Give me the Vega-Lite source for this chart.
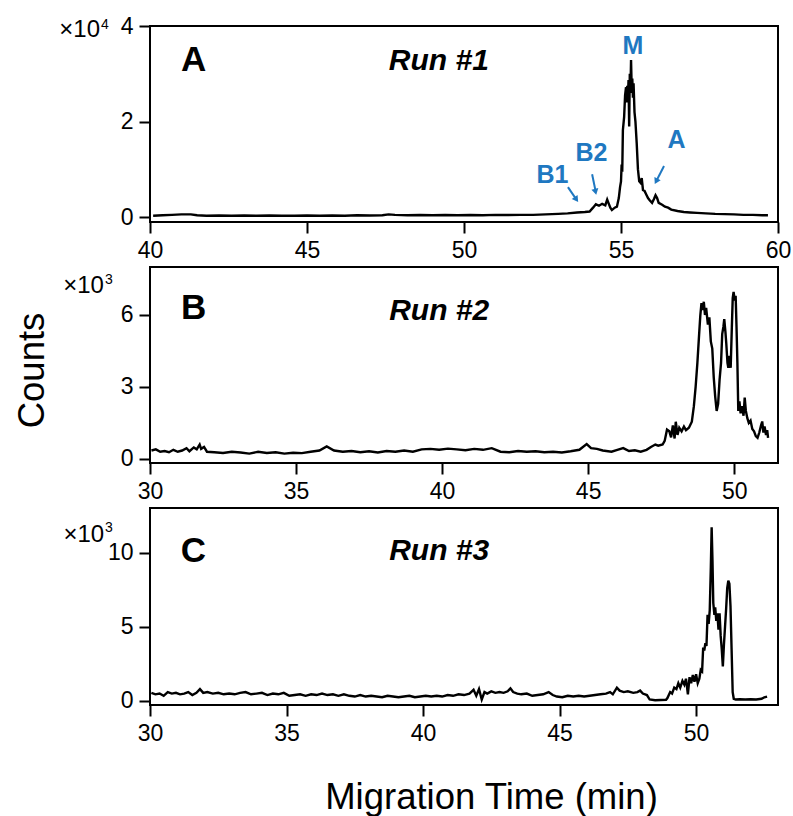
{
  "$schema": "https://vega.github.io/schema/vega-lite/v6.json",
  "autosize": {"type": "none"},
  "padding": {"left": 150, "top": 26, "right": 643, "bottom": 790},
  "background": "white",
  "spacing": 45,
  "bounds": "flush",
  "config": {
    "view": {"stroke": "black", "strokeWidth": 2},
    "font": "Liberation Sans",
    "axis": {"domain": false, "grid": false, "ticks": true, "tickSize": 11, "tickWidth": 2, "tickColor": "black", "labelFont": "Liberation Sans", "labelFontSize": 23, "labelColor": "black", "labelPadding": 6, "labelFlush": false, "labelOverlap": false}
  },
  "vconcat": [
    {
      "width": 628, "height": 196,
      "encoding": {
        "x": {"field": "t", "type": "quantitative", "scale": {"domain": [40, 60], "nice": false, "zero": false}, "axis": {"values": [40, 45, 50, 55, 60], "title": null}},
        "y": {"field": "v", "type": "quantitative", "scale": {"domain": [-0.1, 4], "nice": false, "zero": false}, "axis": {"values": [0, 2, 4], "title": null}}
      },
      "layer": [
        {
          "data": {"values": [
            {"t": 40.1, "v": 0.03}, {"t": 40.4, "v": 0.04}, {"t": 40.7, "v": 0.05}, {"t": 41.0, "v": 0.06}, {"t": 41.3, "v": 0.06}, {"t": 41.5, "v": 0.04}, {"t": 41.8, "v": 0.03}, {"t": 42.2, "v": 0.035}, {"t": 42.6, "v": 0.03}, {"t": 43.0, "v": 0.035}, {"t": 43.4, "v": 0.03}, {"t": 43.8, "v": 0.035}, {"t": 44.2, "v": 0.03}, {"t": 44.6, "v": 0.03}, {"t": 45.0, "v": 0.035}, {"t": 45.4, "v": 0.03}, {"t": 45.8, "v": 0.035}, {"t": 46.2, "v": 0.03}, {"t": 46.6, "v": 0.04}, {"t": 47.0, "v": 0.035}, {"t": 47.4, "v": 0.04}, {"t": 47.6, "v": 0.06}, {"t": 47.8, "v": 0.05}, {"t": 48.2, "v": 0.04}, {"t": 48.6, "v": 0.045}, {"t": 49.0, "v": 0.04}, {"t": 49.4, "v": 0.045}, {"t": 49.8, "v": 0.04}, {"t": 50.2, "v": 0.045}, {"t": 50.6, "v": 0.04}, {"t": 51.0, "v": 0.05}, {"t": 51.4, "v": 0.045}, {"t": 51.8, "v": 0.05}, {"t": 52.2, "v": 0.05}, {"t": 52.6, "v": 0.06}, {"t": 53.0, "v": 0.07}, {"t": 53.3, "v": 0.08}, {"t": 53.6, "v": 0.1}, {"t": 53.85, "v": 0.11}, {"t": 54.0, "v": 0.12}, {"t": 54.11, "v": 0.2}, {"t": 54.2, "v": 0.27}, {"t": 54.3, "v": 0.24}, {"t": 54.4, "v": 0.28}, {"t": 54.5, "v": 0.25}, {"t": 54.56, "v": 0.37}, {"t": 54.6, "v": 0.3}, {"t": 54.66, "v": 0.2}, {"t": 54.71, "v": 0.15}, {"t": 54.8, "v": 0.2}, {"t": 54.87, "v": 0.22}, {"t": 54.93, "v": 0.4}, {"t": 54.97, "v": 0.63}, {"t": 55.0, "v": 0.75}, {"t": 55.02, "v": 1.1}, {"t": 55.04, "v": 0.95}, {"t": 55.06, "v": 1.82}, {"t": 55.1, "v": 2.1}, {"t": 55.13, "v": 2.55}, {"t": 55.16, "v": 2.72}, {"t": 55.18, "v": 2.4}, {"t": 55.2, "v": 2.75}, {"t": 55.22, "v": 2.5}, {"t": 55.24, "v": 2.87}, {"t": 55.26, "v": 1.9}, {"t": 55.28, "v": 3.0}, {"t": 55.3, "v": 2.6}, {"t": 55.32, "v": 3.29}, {"t": 55.34, "v": 2.7}, {"t": 55.36, "v": 2.9}, {"t": 55.38, "v": 2.5}, {"t": 55.4, "v": 2.8}, {"t": 55.43, "v": 2.2}, {"t": 55.46, "v": 2.0}, {"t": 55.5, "v": 1.55}, {"t": 55.54, "v": 1.0}, {"t": 55.58, "v": 0.75}, {"t": 55.62, "v": 0.72}, {"t": 55.66, "v": 0.82}, {"t": 55.7, "v": 0.57}, {"t": 55.75, "v": 0.55}, {"t": 55.8, "v": 0.48}, {"t": 55.86, "v": 0.4}, {"t": 55.92, "v": 0.35}, {"t": 55.99, "v": 0.3}, {"t": 56.05, "v": 0.38}, {"t": 56.1, "v": 0.46}, {"t": 56.15, "v": 0.4}, {"t": 56.2, "v": 0.3}, {"t": 56.31, "v": 0.26}, {"t": 56.4, "v": 0.22}, {"t": 56.5, "v": 0.2}, {"t": 56.6, "v": 0.16}, {"t": 56.8, "v": 0.13}, {"t": 57.0, "v": 0.11}, {"t": 57.2, "v": 0.1}, {"t": 57.42, "v": 0.09}, {"t": 57.7, "v": 0.08}, {"t": 58.0, "v": 0.07}, {"t": 58.3, "v": 0.065}, {"t": 58.6, "v": 0.06}, {"t": 58.9, "v": 0.05}, {"t": 59.2, "v": 0.05}, {"t": 59.5, "v": 0.04}, {"t": 59.68, "v": 0.04}
          ]},
          "mark": {"type": "line", "color": "black", "strokeWidth": 2.4, "clip": true}
        },
        {
          "data": {"values": [{"t": 41.39, "v": 3.29, "label": "A"}]},
          "mark": {"type": "text", "fontSize": 35, "fontWeight": "bold", "color": "black", "align": "center", "baseline": "middle"},
          "encoding": {"text": {"field": "label"}}
        },
        {
          "data": {"values": [{"t": 49.2, "v": 3.27, "label": "Run #1"}]},
          "mark": {"type": "text", "fontSize": 30, "fontWeight": "bold", "fontStyle": "italic", "color": "black", "align": "center", "baseline": "middle"},
          "encoding": {"text": {"field": "label"}}
        },
        {
          "data": {"values": [{"t": 38.41, "v": 3.77, "label": "×10"}]},
          "mark": {"type": "text", "fontSize": 24, "color": "black", "align": "right", "baseline": "alphabetic"},
          "encoding": {"text": {"field": "label"}}
        },
        {
          "data": {"values": [{"t": 38.44, "v": 3.94, "label": "4"}]},
          "mark": {"type": "text", "fontSize": 14, "color": "black", "align": "left", "baseline": "alphabetic"},
          "encoding": {"text": {"field": "label"}}
        },
        {
          "data": {"values": [
            {"t": 55.38, "v": 3.58, "label": "M"}, {"t": 54.06, "v": 1.35, "label": "B2"}, {"t": 52.82, "v": 0.88, "label": "B1"}, {"t": 56.77, "v": 1.62, "label": "A"}
          ]},
          "mark": {"type": "text", "fontSize": 25, "fontWeight": "bold", "color": "#1f78c1", "align": "center", "baseline": "middle"},
          "encoding": {"text": {"field": "label"}}
        },
        {
          "data": {"values": [
            {"t": 53.31, "v": 0.63, "t2": 53.55, "v2": 0.4, "label": "B1"}, {"t": 54.08, "v": 0.9, "t2": 54.18, "v2": 0.58, "label": "B2"}, {"t": 56.37, "v": 1.07, "t2": 56.15, "v2": 0.79, "label": "A"}
          ]},
          "mark": {"type": "rule", "color": "#1f78c1", "strokeWidth": 2},
          "encoding": {"x2": {"field": "t2"}, "y2": {"field": "v2"}}
        },
        {
          "data": {"values": [{"t": 53.58, "v": 0.37, "label": "B1"}]},
          "mark": {"type": "point", "shape": "triangle-up", "filled": true, "opacity": 1, "color": "#1f78c1", "size": 50, "angle": 145},
          "encoding": {}
        },
        {
          "data": {"values": [{"t": 54.19, "v": 0.53, "label": "B2"}]},
          "mark": {"type": "point", "shape": "triangle-up", "filled": true, "opacity": 1, "color": "#1f78c1", "size": 50, "angle": 167},
          "encoding": {}
        },
        {
          "data": {"values": [{"t": 56.12, "v": 0.75, "label": "A"}]},
          "mark": {"type": "point", "shape": "triangle-up", "filled": true, "opacity": 1, "color": "#1f78c1", "size": 50, "angle": 207},
          "encoding": {}
        }
      ]
    },
    {
      "width": 628, "height": 196,
      "encoding": {
        "x": {"field": "t", "type": "quantitative", "scale": {"domain": [30, 51.5], "nice": false, "zero": false}, "axis": {"values": [30, 35, 40, 45, 50], "title": null}},
        "y": {"field": "v", "type": "quantitative", "scale": {"domain": [-0.17, 8], "nice": false, "zero": false}, "axis": {"values": [0, 3, 6], "title": "Counts", "titleFont": "Liberation Sans", "titleFontSize": 36.5, "titleFontWeight": "normal", "titleColor": "black", "titleAngle": -90, "titleBaseline": "alphabetic", "titleX": -107, "titleY": 103}}
      },
      "layer": [
        {
          "data": {"values": [
            {"t": 30.05, "v": 0.35}, {"t": 30.2, "v": 0.4}, {"t": 30.35, "v": 0.3}, {"t": 30.5, "v": 0.33}, {"t": 30.65, "v": 0.28}, {"t": 30.8, "v": 0.38}, {"t": 30.95, "v": 0.3}, {"t": 31.1, "v": 0.35}, {"t": 31.25, "v": 0.45}, {"t": 31.35, "v": 0.32}, {"t": 31.5, "v": 0.48}, {"t": 31.6, "v": 0.4}, {"t": 31.7, "v": 0.6}, {"t": 31.75, "v": 0.42}, {"t": 31.85, "v": 0.5}, {"t": 31.95, "v": 0.3}, {"t": 32.2, "v": 0.28}, {"t": 32.5, "v": 0.25}, {"t": 32.8, "v": 0.3}, {"t": 33.1, "v": 0.27}, {"t": 33.4, "v": 0.22}, {"t": 33.7, "v": 0.3}, {"t": 34.0, "v": 0.25}, {"t": 34.3, "v": 0.28}, {"t": 34.6, "v": 0.22}, {"t": 34.9, "v": 0.26}, {"t": 35.2, "v": 0.24}, {"t": 35.5, "v": 0.3}, {"t": 35.8, "v": 0.35}, {"t": 36.05, "v": 0.52}, {"t": 36.3, "v": 0.35}, {"t": 36.6, "v": 0.3}, {"t": 36.9, "v": 0.33}, {"t": 37.2, "v": 0.28}, {"t": 37.5, "v": 0.32}, {"t": 37.8, "v": 0.27}, {"t": 38.1, "v": 0.33}, {"t": 38.4, "v": 0.3}, {"t": 38.7, "v": 0.35}, {"t": 39.0, "v": 0.3}, {"t": 39.3, "v": 0.4}, {"t": 39.6, "v": 0.42}, {"t": 39.9, "v": 0.38}, {"t": 40.2, "v": 0.43}, {"t": 40.5, "v": 0.4}, {"t": 40.8, "v": 0.36}, {"t": 41.1, "v": 0.42}, {"t": 41.4, "v": 0.38}, {"t": 41.7, "v": 0.45}, {"t": 42.0, "v": 0.3}, {"t": 42.3, "v": 0.28}, {"t": 42.6, "v": 0.33}, {"t": 42.9, "v": 0.3}, {"t": 43.2, "v": 0.32}, {"t": 43.5, "v": 0.28}, {"t": 43.8, "v": 0.3}, {"t": 44.1, "v": 0.27}, {"t": 44.4, "v": 0.32}, {"t": 44.7, "v": 0.38}, {"t": 44.95, "v": 0.62}, {"t": 45.1, "v": 0.45}, {"t": 45.3, "v": 0.42}, {"t": 45.5, "v": 0.35}, {"t": 45.8, "v": 0.3}, {"t": 46.0, "v": 0.38}, {"t": 46.2, "v": 0.45}, {"t": 46.4, "v": 0.33}, {"t": 46.6, "v": 0.36}, {"t": 46.8, "v": 0.3}, {"t": 47.0, "v": 0.38}, {"t": 47.15, "v": 0.5}, {"t": 47.3, "v": 0.6}, {"t": 47.4, "v": 0.55}, {"t": 47.55, "v": 0.6}, {"t": 47.62, "v": 0.75}, {"t": 47.7, "v": 1.22}, {"t": 47.78, "v": 1.15}, {"t": 47.84, "v": 0.9}, {"t": 47.9, "v": 1.4}, {"t": 47.96, "v": 0.85}, {"t": 48.0, "v": 1.55}, {"t": 48.06, "v": 1.0}, {"t": 48.12, "v": 1.3}, {"t": 48.2, "v": 1.15}, {"t": 48.28, "v": 1.35}, {"t": 48.35, "v": 1.2}, {"t": 48.45, "v": 1.3}, {"t": 48.55, "v": 1.55}, {"t": 48.62, "v": 2.2}, {"t": 48.68, "v": 3.0}, {"t": 48.74, "v": 4.0}, {"t": 48.8, "v": 5.2}, {"t": 48.84, "v": 5.97}, {"t": 48.88, "v": 6.5}, {"t": 48.92, "v": 6.2}, {"t": 48.96, "v": 6.55}, {"t": 49.0, "v": 6.0}, {"t": 49.04, "v": 6.3}, {"t": 49.1, "v": 5.6}, {"t": 49.15, "v": 5.9}, {"t": 49.2, "v": 4.9}, {"t": 49.25, "v": 4.6}, {"t": 49.3, "v": 3.4}, {"t": 49.35, "v": 2.6}, {"t": 49.4, "v": 2.0}, {"t": 49.45, "v": 2.3}, {"t": 49.5, "v": 3.3}, {"t": 49.55, "v": 4.0}, {"t": 49.59, "v": 5.2}, {"t": 49.63, "v": 5.5}, {"t": 49.66, "v": 5.83}, {"t": 49.7, "v": 5.3}, {"t": 49.73, "v": 4.8}, {"t": 49.77, "v": 4.0}, {"t": 49.8, "v": 3.8}, {"t": 49.84, "v": 4.3}, {"t": 49.88, "v": 3.8}, {"t": 49.92, "v": 5.5}, {"t": 49.95, "v": 6.7}, {"t": 49.98, "v": 6.96}, {"t": 50.02, "v": 6.6}, {"t": 50.05, "v": 6.8}, {"t": 50.08, "v": 5.5}, {"t": 50.11, "v": 4.0}, {"t": 50.14, "v": 2.0}, {"t": 50.18, "v": 2.4}, {"t": 50.22, "v": 1.9}, {"t": 50.27, "v": 2.2}, {"t": 50.32, "v": 1.8}, {"t": 50.36, "v": 2.56}, {"t": 50.4, "v": 2.0}, {"t": 50.45, "v": 1.7}, {"t": 50.5, "v": 1.5}, {"t": 50.56, "v": 1.6}, {"t": 50.62, "v": 1.25}, {"t": 50.68, "v": 1.15}, {"t": 50.74, "v": 0.95}, {"t": 50.8, "v": 0.88}, {"t": 50.86, "v": 1.1}, {"t": 50.92, "v": 1.4}, {"t": 50.96, "v": 1.56}, {"t": 51.0, "v": 1.1}, {"t": 51.04, "v": 1.35}, {"t": 51.09, "v": 1.0}, {"t": 51.13, "v": 1.2}, {"t": 51.16, "v": 0.88}
          ]},
          "mark": {"type": "line", "color": "black", "strokeWidth": 2.4, "clip": true}
        },
        {
          "data": {"values": [{"t": 31.49, "v": 6.31, "label": "B"}]},
          "mark": {"type": "text", "fontSize": 35, "fontWeight": "bold", "color": "black", "align": "center", "baseline": "middle"},
          "encoding": {"text": {"field": "label"}}
        },
        {
          "data": {"values": [{"t": 39.9, "v": 6.17, "label": "Run #2"}]},
          "mark": {"type": "text", "fontSize": 30, "fontWeight": "bold", "fontStyle": "italic", "color": "black", "align": "center", "baseline": "middle"},
          "encoding": {"text": {"field": "label"}}
        },
        {
          "data": {"values": [{"t": 28.42, "v": 6.9, "label": "×10"}]},
          "mark": {"type": "text", "fontSize": 24, "color": "black", "align": "right", "baseline": "alphabetic"},
          "encoding": {"text": {"field": "label"}}
        },
        {
          "data": {"values": [{"t": 28.46, "v": 7.31, "label": "3"}]},
          "mark": {"type": "text", "fontSize": 14, "color": "black", "align": "left", "baseline": "alphabetic"},
          "encoding": {"text": {"field": "label"}}
        }
      ]
    },
    {
      "width": 628, "height": 197,
      "encoding": {
        "x": {"field": "t", "type": "quantitative", "scale": {"domain": [30, 53], "nice": false, "zero": false}, "axis": {"values": [30, 35, 40, 45, 50], "title": "Migration Time (min)", "titleFont": "Liberation Sans", "titleFontSize": 36.5, "titleFontWeight": "normal", "titleColor": "black", "titleBaseline": "alphabetic", "titleX": 341, "titleY": 103}},
        "y": {"field": "v", "type": "quantitative", "scale": {"domain": [-0.27, 13], "nice": false, "zero": false}, "axis": {"values": [0, 5, 10], "title": null}}
      },
      "layer": [
        {
          "data": {"values": [
            {"t": 30.05, "v": 0.55}, {"t": 30.2, "v": 0.45}, {"t": 30.35, "v": 0.5}, {"t": 30.5, "v": 0.35}, {"t": 30.65, "v": 0.6}, {"t": 30.8, "v": 0.5}, {"t": 30.95, "v": 0.55}, {"t": 31.1, "v": 0.45}, {"t": 31.25, "v": 0.5}, {"t": 31.4, "v": 0.6}, {"t": 31.55, "v": 0.4}, {"t": 31.7, "v": 0.55}, {"t": 31.83, "v": 0.8}, {"t": 31.95, "v": 0.55}, {"t": 32.1, "v": 0.6}, {"t": 32.3, "v": 0.5}, {"t": 32.5, "v": 0.55}, {"t": 32.7, "v": 0.45}, {"t": 32.9, "v": 0.5}, {"t": 33.1, "v": 0.45}, {"t": 33.3, "v": 0.55}, {"t": 33.5, "v": 0.6}, {"t": 33.7, "v": 0.45}, {"t": 33.9, "v": 0.5}, {"t": 34.1, "v": 0.55}, {"t": 34.3, "v": 0.4}, {"t": 34.5, "v": 0.5}, {"t": 34.7, "v": 0.45}, {"t": 34.9, "v": 0.55}, {"t": 35.1, "v": 0.35}, {"t": 35.3, "v": 0.4}, {"t": 35.5, "v": 0.45}, {"t": 35.7, "v": 0.35}, {"t": 35.9, "v": 0.45}, {"t": 36.1, "v": 0.4}, {"t": 36.3, "v": 0.5}, {"t": 36.5, "v": 0.4}, {"t": 36.7, "v": 0.45}, {"t": 36.9, "v": 0.35}, {"t": 37.1, "v": 0.45}, {"t": 37.3, "v": 0.35}, {"t": 37.5, "v": 0.3}, {"t": 37.7, "v": 0.4}, {"t": 37.9, "v": 0.3}, {"t": 38.1, "v": 0.35}, {"t": 38.3, "v": 0.3}, {"t": 38.5, "v": 0.25}, {"t": 38.7, "v": 0.35}, {"t": 38.9, "v": 0.3}, {"t": 39.1, "v": 0.25}, {"t": 39.3, "v": 0.3}, {"t": 39.5, "v": 0.35}, {"t": 39.7, "v": 0.25}, {"t": 39.9, "v": 0.3}, {"t": 40.1, "v": 0.35}, {"t": 40.3, "v": 0.3}, {"t": 40.5, "v": 0.35}, {"t": 40.7, "v": 0.3}, {"t": 40.9, "v": 0.4}, {"t": 41.1, "v": 0.35}, {"t": 41.3, "v": 0.45}, {"t": 41.5, "v": 0.4}, {"t": 41.7, "v": 0.5}, {"t": 41.85, "v": 0.75}, {"t": 41.95, "v": 0.35}, {"t": 42.05, "v": 0.8}, {"t": 42.15, "v": 0.1}, {"t": 42.25, "v": 0.6}, {"t": 42.35, "v": 0.5}, {"t": 42.5, "v": 0.65}, {"t": 42.65, "v": 0.55}, {"t": 42.8, "v": 0.6}, {"t": 42.95, "v": 0.55}, {"t": 43.1, "v": 0.65}, {"t": 43.2, "v": 0.85}, {"t": 43.3, "v": 0.6}, {"t": 43.45, "v": 0.5}, {"t": 43.6, "v": 0.45}, {"t": 43.8, "v": 0.5}, {"t": 44.0, "v": 0.35}, {"t": 44.2, "v": 0.4}, {"t": 44.4, "v": 0.45}, {"t": 44.6, "v": 0.6}, {"t": 44.75, "v": 0.4}, {"t": 44.9, "v": 0.3}, {"t": 45.1, "v": 0.25}, {"t": 45.3, "v": 0.35}, {"t": 45.5, "v": 0.3}, {"t": 45.7, "v": 0.35}, {"t": 45.9, "v": 0.3}, {"t": 46.1, "v": 0.35}, {"t": 46.3, "v": 0.4}, {"t": 46.5, "v": 0.45}, {"t": 46.7, "v": 0.5}, {"t": 46.85, "v": 0.6}, {"t": 46.95, "v": 0.45}, {"t": 47.1, "v": 0.9}, {"t": 47.2, "v": 0.7}, {"t": 47.35, "v": 0.6}, {"t": 47.5, "v": 0.65}, {"t": 47.7, "v": 0.55}, {"t": 47.85, "v": 0.6}, {"t": 47.95, "v": 0.7}, {"t": 48.05, "v": 0.5}, {"t": 48.2, "v": 0.4}, {"t": 48.3, "v": 0.1}, {"t": 48.5, "v": 0.05}, {"t": 48.7, "v": 0.07}, {"t": 48.9, "v": 0.08}, {"t": 48.95, "v": 0.2}, {"t": 49.05, "v": 0.6}, {"t": 49.12, "v": 0.5}, {"t": 49.2, "v": 0.9}, {"t": 49.28, "v": 0.8}, {"t": 49.35, "v": 1.2}, {"t": 49.42, "v": 0.9}, {"t": 49.5, "v": 1.35}, {"t": 49.57, "v": 1.1}, {"t": 49.63, "v": 1.5}, {"t": 49.7, "v": 0.45}, {"t": 49.76, "v": 1.6}, {"t": 49.82, "v": 1.2}, {"t": 49.88, "v": 1.75}, {"t": 49.94, "v": 1.3}, {"t": 50.0, "v": 1.8}, {"t": 50.06, "v": 1.2}, {"t": 50.12, "v": 1.5}, {"t": 50.17, "v": 2.1}, {"t": 50.22, "v": 2.0}, {"t": 50.26, "v": 3.6}, {"t": 50.3, "v": 3.4}, {"t": 50.34, "v": 3.9}, {"t": 50.38, "v": 3.7}, {"t": 50.42, "v": 5.8}, {"t": 50.46, "v": 5.2}, {"t": 50.5, "v": 6.1}, {"t": 50.54, "v": 9.0}, {"t": 50.57, "v": 11.7}, {"t": 50.6, "v": 9.5}, {"t": 50.63, "v": 6.6}, {"t": 50.67, "v": 5.8}, {"t": 50.7, "v": 6.3}, {"t": 50.74, "v": 5.4}, {"t": 50.78, "v": 5.9}, {"t": 50.82, "v": 4.8}, {"t": 50.86, "v": 5.9}, {"t": 50.9, "v": 4.4}, {"t": 50.94, "v": 3.5}, {"t": 50.98, "v": 2.32}, {"t": 51.02, "v": 3.8}, {"t": 51.06, "v": 5.0}, {"t": 51.1, "v": 6.2}, {"t": 51.14, "v": 7.6}, {"t": 51.18, "v": 8.1}, {"t": 51.22, "v": 7.9}, {"t": 51.26, "v": 6.4}, {"t": 51.3, "v": 3.5}, {"t": 51.34, "v": 0.6}, {"t": 51.38, "v": 0.15}, {"t": 51.45, "v": 0.1}, {"t": 51.6, "v": 0.12}, {"t": 51.8, "v": 0.1}, {"t": 52.0, "v": 0.12}, {"t": 52.2, "v": 0.1}, {"t": 52.4, "v": 0.15}, {"t": 52.5, "v": 0.25}, {"t": 52.6, "v": 0.3}
          ]},
          "mark": {"type": "line", "color": "black", "strokeWidth": 2.4, "clip": true}
        },
        {
          "data": {"values": [{"t": 31.59, "v": 10.1, "label": "C"}]},
          "mark": {"type": "text", "fontSize": 35, "fontWeight": "bold", "color": "black", "align": "center", "baseline": "middle"},
          "encoding": {"text": {"field": "label"}}
        },
        {
          "data": {"values": [{"t": 40.59, "v": 10.1, "label": "Run #3"}]},
          "mark": {"type": "text", "fontSize": 30, "fontWeight": "bold", "fontStyle": "italic", "color": "black", "align": "center", "baseline": "middle"},
          "encoding": {"text": {"field": "label"}}
        },
        {
          "data": {"values": [{"t": 28.32, "v": 10.73, "label": "×10"}]},
          "mark": {"type": "text", "fontSize": 24, "color": "black", "align": "right", "baseline": "alphabetic"},
          "encoding": {"text": {"field": "label"}}
        },
        {
          "data": {"values": [{"t": 28.35, "v": 11.38, "label": "3"}]},
          "mark": {"type": "text", "fontSize": 14, "color": "black", "align": "left", "baseline": "alphabetic"},
          "encoding": {"text": {"field": "label"}}
        }
      ]
    }
  ]
}
